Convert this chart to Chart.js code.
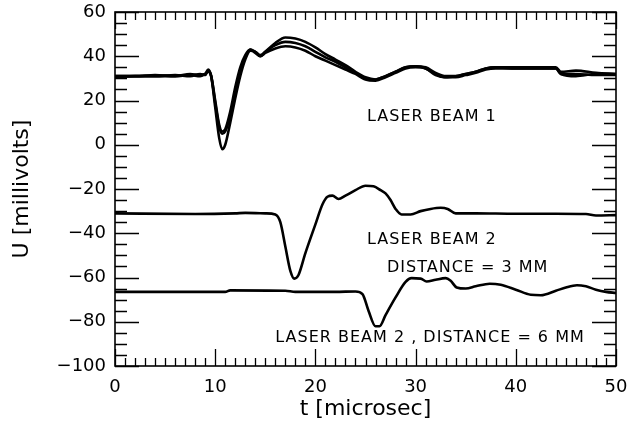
<!DOCTYPE html>
<html lang="en">
<head>
<meta charset="UTF-8">
<title>Laser beam signals</title>
<script src="https://cdn.jsdelivr.net/npm/chart.js@4.4.1/dist/chart.umd.min.js"></script>
<style>
    html, body { margin: 0; padding: 0; background: #fff; }
    canvas { display: block; }
</style>
</head>
<body>
<canvas id="signalChart" width="629" height="428"></canvas>
<script>
// laser beam 1: several overlapping shots
const beam1Time   = [0, 2, 4, 6, 7.5, 8.5, 9.0, 9.3, 9.6, 10.0, 10.4, 10.7, 11.0, 11.5, 12.0, 12.5, 13.0, 13.5, 14.0, 14.5, 15.0, 16.0, 17.0, 18.0, 19.0, 20.0, 21.0, 22.0, 23.0, 24.0, 25.0, 26.0, 27.0, 28.0, 29.0, 30.0, 31.0, 32.0, 33.0, 34.0, 35.0, 36.0, 37.0, 38.0, 40, 42, 44, 44.5, 46, 48, 50];
const beam1TraceA = [31, 31, 31.5, 31, 32, 31.5, 32, 34, 31, 17, 3, -2, 0, 10, 21, 31, 38.5, 42.5, 42, 40, 42, 46, 48.5, 48, 46.5, 44, 41, 38.5, 36, 33, 30.5, 29.5, 31, 33, 35, 35.5, 35, 32.5, 31, 31, 32, 33, 34.5, 35, 35, 35, 35, 33, 33.5, 32.5, 32];
const beam1TraceB = [31, 31, 31, 31.5, 31, 32, 31.5, 33.5, 31, 19, 8, 5, 6, 13, 24, 33, 39.5, 43, 42, 40.5, 42, 45, 46.5, 46, 44.5, 42, 39.5, 37.5, 35, 32.5, 30, 29.5, 31, 33, 35, 35.5, 34.5, 32, 30.5, 31, 32, 33, 34.5, 35, 34.5, 34.5, 34.5, 32, 31, 32, 32];
const beam1TraceC = [30.5, 31, 31, 31, 31.5, 31, 32, 33, 31, 20, 9, 6, 7, 15, 26, 35, 40.5, 43, 41.5, 40, 41.5, 43.5, 44.5, 44, 42.5, 40, 38, 36, 34, 32, 29.5, 29, 30.5, 32.5, 34.5, 35, 34.5, 31.5, 30.5, 30.5, 31.5, 32.5, 34, 34.5, 34.5, 34.5, 34.5, 32, 32, 31.5, 31.5];

// laser beam 2, distance = 3 mm
const beam2Time  = [0, 8, 12, 13, 15, 16, 16.5, 17, 17.5, 17.9, 18.3, 19, 20, 20.7, 21.2, 21.7, 22.3, 23, 24, 25, 25.8, 26.5, 27, 27.5, 28, 28.6, 29.5, 30.5, 31.5, 32.5, 33.2, 34, 36, 40, 44, 47, 48, 50];
const beam2Value = [-31, -31.3, -31, -30.8, -31, -31.5, -35, -46, -57, -60.5, -59, -49, -36, -27, -23.5, -23, -24.5, -23, -20.5, -18.5, -18.8, -20.5, -22, -25, -29, -31.5, -31.5, -30, -29, -28.5, -29, -31, -31, -31.2, -31.2, -31.3, -32, -31.8];

// laser beam 2, distance = 6 mm
const beam6Time  = [0, 5, 11, 11.5, 17, 18, 22, 24, 24.7, 25.3, 26.0, 26.4, 27, 28, 29, 29.6, 30.5, 31.1, 32, 33, 33.5, 34.1, 35, 36, 37.4, 38.5, 40, 41.5, 42.5, 44, 45, 46.1, 47, 48, 49, 50];
const beam6Value = [-66.5, -66.5, -66.5, -65.8, -66, -66.5, -66.5, -66.3, -67.5, -75, -82, -82, -77, -69, -62, -60.3, -60.5, -61.8, -61, -60.3, -61.5, -64.5, -65, -64, -62.8, -63.3, -65.5, -67.8, -68, -66, -64.5, -63.5, -64, -65.5, -66.5, -67];

// axis ranges and ticks
const xMin = 0, xMax = 50, xMajor = 10, xMinor = 1;
const yMin = -100, yMax = 60, yMajor = 20, yMinor = 5;

// text labels inside the plot (left edge time, centre value)
const noteText  = ['LASER BEAM 1', 'LASER BEAM 2', 'DISTANCE = 3 MM', 'LASER BEAM 2 , DISTANCE = 6 MM'];
const noteTime  = [25.15, 25.15, 27.15, 16.0];
const noteValue = [12.5, -43, -55.7, -87.3];

const FONT = '"DejaVu Sans", Arial, sans-serif';

function pts(ts, vs) {
    return ts.map((t, i) => ({ x: t, y: vs[i] }));
}

function line(label, ts, vs) {
    return {
        label: label,
        data: pts(ts, vs),
        borderColor: '#000',
        borderWidth: 2.6,
        pointRadius: 0,
        cubicInterpolationMode: 'monotone',
        fill: false
    };
}

// draws the closed frame, inward major/minor ticks on all four sides and the notes
const frameTicks = {
    id: 'frameTicks',
    afterDatasetsDraw(chart) {
        const { ctx, chartArea: a, scales: { x, y } } = chart;
        ctx.save();
        ctx.strokeStyle = '#000';
        ctx.lineWidth = 1.3;
        ctx.beginPath();
        for (let i = 0; i <= (xMax - xMin) / xMinor; i++) {
            const v = xMin + i * xMinor;
            const px = Math.round(x.getPixelForValue(v)) + 0.5;
            const len = (v % xMajor === 0) ? 17 : 8;
            ctx.moveTo(px, a.bottom); ctx.lineTo(px, a.bottom - len);
            ctx.moveTo(px, a.top); ctx.lineTo(px, a.top + len);
        }
        for (let i = 0; i <= (yMax - yMin) / yMinor; i++) {
            const v = yMin + i * yMinor;
            const py = Math.round(y.getPixelForValue(v)) + 0.5;
            const len = (v % yMajor === 0) ? 24 : 12;
            ctx.moveTo(a.left, py); ctx.lineTo(a.left + len, py);
            ctx.moveTo(a.right, py); ctx.lineTo(a.right - len, py);
        }
        ctx.stroke();
        ctx.lineWidth = 1.6;
        ctx.strokeRect(a.left, a.top, a.right - a.left, a.bottom - a.top);

        ctx.fillStyle = '#000';
        ctx.font = '16px ' + FONT;
        ctx.letterSpacing = '1px';
        ctx.textAlign = 'left';
        ctx.textBaseline = 'middle';
        noteText.forEach((txt, i) => {
            ctx.fillText(txt, x.getPixelForValue(noteTime[i]), y.getPixelForValue(noteValue[i]));
        });
        ctx.restore();
    }
};

const minus = v => (v < 0 ? '\u2212' + Math.abs(v) : String(v));

new Chart(document.getElementById('signalChart'), {
    type: 'line',
    data: {
        datasets: [
            line('Laser beam 1 (a)', beam1Time, beam1TraceA),
            line('Laser beam 1 (b)', beam1Time, beam1TraceB),
            line('Laser beam 1 (c)', beam1Time, beam1TraceC),
            line('Laser beam 2, 3 mm', beam2Time, beam2Value),
            line('Laser beam 2, 6 mm', beam6Time, beam6Value)
        ]
    },
    options: {
        responsive: false,
        animation: false,
        layout: { padding: { top: 12, right: 13, left: 0, bottom: 0 } },
        plugins: { legend: { display: false }, tooltip: { enabled: false } },
        scales: {
            x: {
                type: 'linear',
                min: xMin, max: xMax,
                grid: { display: false, drawTicks: false },
                border: { display: false },
                ticks: { stepSize: xMajor, padding: 11, color: '#000', font: { family: FONT, size: 18 }, callback: minus },
                title: { display: true, text: 't [microsec]', color: '#000', font: { family: FONT, size: 22 }, padding: { top: 0, bottom: 6 } },
                afterFit(scale) { scale.height = 62; scale.paddingLeft = 0; scale.paddingRight = 0; }
            },
            y: {
                type: 'linear',
                min: yMin, max: yMax,
                grid: { display: false, drawTicks: false },
                border: { display: false },
                ticks: { stepSize: yMajor, padding: 9, color: '#000', font: { family: FONT, size: 18 }, callback: minus },
                title: { display: true, text: 'U [millivolts]', color: '#000', font: { family: FONT, size: 22 }, padding: { top: 9, bottom: 0 } },
                afterFit(scale) { scale.width = 115; scale.paddingTop = 0; scale.paddingBottom = 0; }
            }
        }
    },
    plugins: [frameTicks]
});
</script>
</body>
</html>
